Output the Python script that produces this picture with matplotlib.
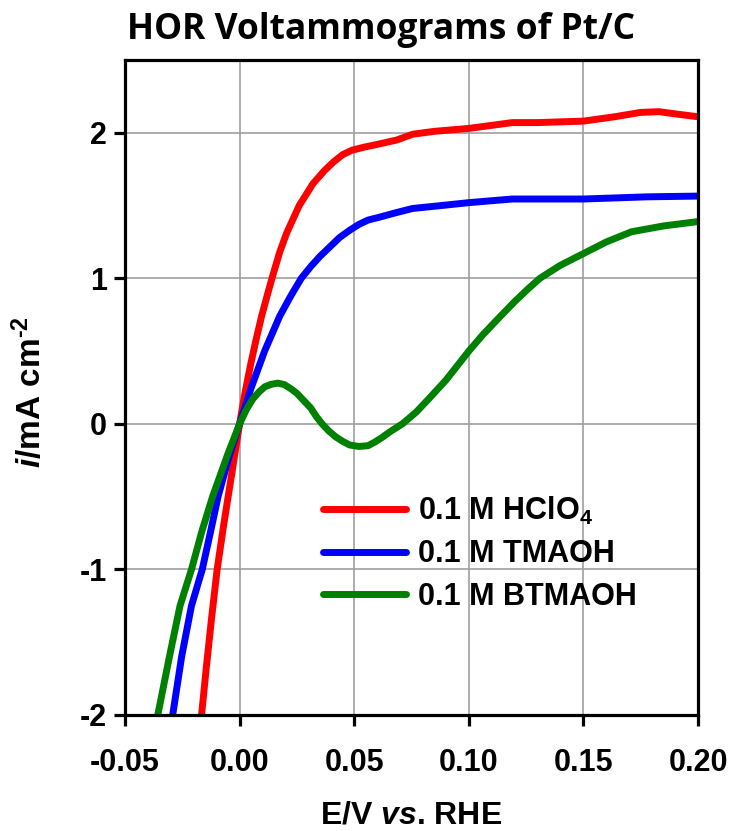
import numpy as np
import matplotlib.pyplot as plt

# Datos (E en V vs. RHE, i en mA cm^-2)
e_hclo4 = [-0.0166, -0.0145, -0.0122, -0.0098, -0.0070, -0.0044, -0.0021, 0.0, 0.0022, 0.0047,
           0.0072, 0.0096, 0.0120, 0.0143, 0.0175, 0.0205, 0.026, 0.032, 0.037, 0.041,
           0.045, 0.049, 0.054, 0.060, 0.0685, 0.0755, 0.085, 0.1, 0.119, 0.13,
           0.14, 0.15, 0.1636, 0.175, 0.183, 0.19, 0.2]
i_hclo4 = [-2.0, -1.67, -1.33, -1.0, -0.70, -0.44, -0.21, 0.0, 0.20, 0.40,
           0.58, 0.74, 0.88, 1.01, 1.18, 1.31, 1.50, 1.65, 1.74, 1.80,
           1.85, 1.88, 1.90, 1.92, 1.95, 1.99, 2.01, 2.03, 2.07, 2.07,
           2.075, 2.08, 2.11, 2.14, 2.145, 2.13, 2.11]

e_tmaoh = [-0.0292, -0.0253, -0.021, -0.0163, -0.0128, -0.0094, -0.0045, 0.0, 0.0051, 0.0109,
           0.0175, 0.022, 0.0269, 0.031, 0.035, 0.0436, 0.048, 0.052, 0.056, 0.061,
           0.068, 0.0755, 0.088, 0.1, 0.119, 0.15, 0.178, 0.2]
i_tmaoh = [-2.0, -1.6, -1.25, -1.0, -0.75, -0.5, -0.22, 0.0, 0.25, 0.5,
           0.74, 0.87, 1.0, 1.08, 1.15, 1.28, 1.33, 1.37, 1.40, 1.42,
           1.45, 1.48, 1.50, 1.52, 1.545, 1.545, 1.56, 1.565]

e_btmaoh = [-0.0357, -0.0305, -0.026, -0.021, -0.0165, -0.0118, -0.0052, 0.0, 0.0030, 0.0057,
            0.0085, 0.011, 0.0138, 0.0167, 0.0195, 0.0225, 0.025, 0.028, 0.031, 0.0335,
            0.036, 0.039, 0.042, 0.045, 0.048, 0.052, 0.056, 0.059, 0.062, 0.066,
            0.071, 0.077, 0.083, 0.090, 0.095, 0.1, 0.106, 0.112, 0.12, 0.126,
            0.131, 0.14, 0.15, 0.16, 0.171, 0.185, 0.2]
i_btmaoh = [-2.0, -1.59, -1.25, -1.0, -0.74, -0.5, -0.21, 0.0, 0.10, 0.17,
            0.22, 0.255, 0.272, 0.28, 0.27, 0.24, 0.21, 0.16, 0.11, 0.05,
            0.0, -0.05, -0.09, -0.12, -0.145, -0.155, -0.15, -0.125, -0.095, -0.05,
            0.0, 0.08, 0.18, 0.30, 0.40, 0.50, 0.61, 0.71, 0.84, 0.93,
            1.0, 1.09, 1.17, 1.25, 1.32, 1.36, 1.39]

etiquetas = ['0.1 M HClO$_4$', '0.1 M TMAOH', '0.1 M BTMAOH']
colores = ['#ff0000', '#0000ff', '#008000']
x_ticks = [-0.05, 0.00, 0.05, 0.10, 0.15, 0.20]
y_ticks = [-2, -1, 0, 1, 2]

plt.rcParams['font.family'] = 'Liberation Sans'
plt.rcParams['font.weight'] = 'bold'
plt.rcParams['axes.unicode_minus'] = False
plt.rcParams['mathtext.fontset'] = 'custom'
plt.rcParams['mathtext.rm'] = 'Liberation Sans:bold'
plt.rcParams['mathtext.it'] = 'Liberation Sans:bold:italic'
plt.rcParams['mathtext.bf'] = 'Liberation Sans:bold'

fig = plt.figure(figsize=(7.3, 8.31), dpi=100)
ax = fig.add_axes([125/730, 1 - 715/831, (698 - 125)/730, (715 - 60)/831])

series = [(e_hclo4, i_hclo4), (e_tmaoh, i_tmaoh), (e_btmaoh, i_btmaoh)]
for (e, i), lab, c in zip(series, etiquetas, colores):
    ax.plot(e, i, color=c, lw=5, label=lab, solid_capstyle='round',
            solid_joinstyle='round')

ax.set_xlim(-0.05, 0.20)
ax.set_ylim(-2, 2.5)
ax.set_xticks(x_ticks)
ax.set_xticklabels(['%.2f' % v for v in x_ticks])
ax.set_yticks(y_ticks)
ax.set_yticklabels([str(v) for v in y_ticks])
ax.grid(True, color='#a0a0a0', lw=1.2)
ax.set_axisbelow(True)
for s in ax.spines.values():
    s.set_linewidth(2.3)
ax.tick_params(axis='both', direction='out', length=8, width=2.3, labelsize=22)
ax.tick_params(axis='x', pad=16)
ax.tick_params(axis='y', pad=5)

fig.text(127/730, 1 - 39/831, 'HOR Voltammograms of Pt/C', fontsize=25.5,
         fontfamily='Open Sans', fontweight='bold', ha='left', va='baseline')
fig.text(411/730, 1/831, r'E/V $\mathit{vs}$. RHE', fontsize=23,
         ha='center', va='bottom')
fig.text(30/730, 1 - 392/831, r'$\mathit{i}$/mA cm$^{\text{-2}}$', fontsize=24,
         rotation=90, ha='center', va='center')

ax.legend(loc='upper left', bbox_to_anchor=(323/730, 1 - 495/831),
          bbox_transform=fig.transFigure, frameon=False, fontsize=22,
          handlelength=2.7, handletextpad=0.4, labelspacing=0.4,
          borderpad=0, borderaxespad=0)

fig.savefig('out.png', dpi=100)
